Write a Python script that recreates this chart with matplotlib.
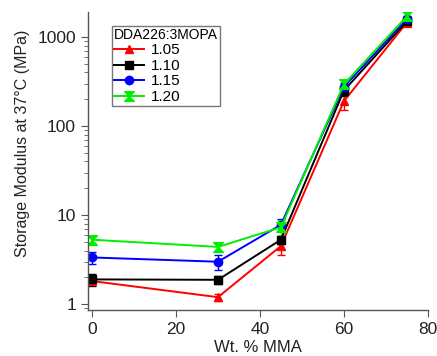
import matplotlib
matplotlib.use('Agg')
from matplotlib import pyplot as plt
from matplotlib.path import Path
import numpy as np

plt.rcParams['font.family'] = ['Liberation Sans', 'DejaVu Sans']

# wt. % MMA
x = [0, 30, 45, 60, 75]

labels = ['1.05', '1.10', '1.15', '1.20']
mod_105 = [1.82, 1.2, 4.5, 190, 1450]
mod_110 = [1.9, 1.88, 5.3, 250, 1500]
mod_115 = [3.35, 3.0, 7.8, 275, 1600]
mod_120 = [5.3, 4.4, 7.3, 295, 1700]

err_105 = [0.15, 0.1, 0.9, 40, 120]
err_110 = [0.3, 0.2, 0.5, 30, 100]
err_115 = [0.55, 0.6, 1.2, 30, 120]
err_120 = [0.4, 0.5, 1.5, 35, 200]

# hourglass marker
hourglass = Path([(-1, 1), (1, 1), (-1, -1), (1, -1), (-1, 1)],
                 [Path.MOVETO, Path.LINETO, Path.LINETO, Path.LINETO, Path.CLOSEPOLY])

series = [
    (mod_105, err_105, '#ff0000', '^', 6),
    (mod_110, err_110, '#000000', 's', 6),
    (mod_115, err_115, '#0000ff', 'o', 6),
    (mod_120, err_120, '#00ee00', hourglass, 7),
]

fig = plt.figure(figsize=(4.37, 3.56), dpi=100)
ax = fig.add_axes([0.201, 0.129, 0.778, 0.837])

handles = []
for (y, e, c, m, ms), lab in zip(series, labels):
    cont = ax.errorbar(x, y, yerr=e, color=c, marker=m, markersize=ms, lw=1.4,
                       capsize=3, elinewidth=1)
    handles.append(cont.lines[0])

ax.set_yscale('log')
ax.set_ylim(0.86, 1900)
ax.set_xlim(-1, 80)
ax.set_xticks([0, 20, 40, 60, 80])
ax.set_yticks([1, 10, 100, 1000])
ax.set_yticklabels(['1', '10', '100', '1000'])

for s in ['top', 'right']:
    ax.spines[s].set_visible(False)
for s in ['left', 'bottom']:
    ax.spines[s].set_color('#555555')
    ax.spines[s].set_linewidth(1)
ax.tick_params(colors='#555555', labelcolor='#222222', labelsize=12.5, length=5)
ax.tick_params(which='minor', colors='#555555', length=3)

ax.set_xlabel('Wt. % MMA', fontsize=12, color='#222222', labelpad=2)
ax.set_ylabel('Storage Modulus at 37\u00b0C (MPa)', fontsize=11.5, color='#222222')
ax.yaxis.set_label_coords(-0.17, 0.56)

leg = ax.legend(handles, labels, title='DDA226:3MOPA', loc='upper left',
                bbox_to_anchor=(0.07, 0.955),
                fontsize=11, title_fontsize=10, frameon=True, fancybox=False,
                handlelength=2.0, handletextpad=0.4, labelspacing=0.1,
                borderpad=0.15, borderaxespad=0)
leg.get_frame().set_edgecolor('#555555')
leg.get_frame().set_linewidth(1)
leg._legend_box.align = 'left'

fig.savefig('out.png', dpi=100)
